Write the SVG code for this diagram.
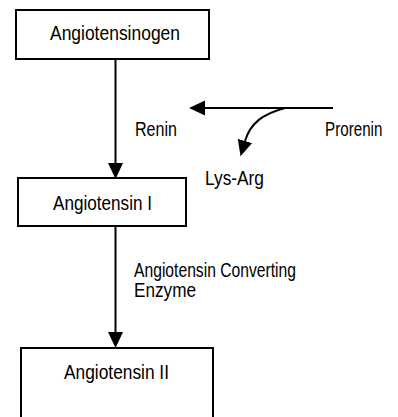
<svg xmlns="http://www.w3.org/2000/svg" width="398" height="417" viewBox="0 0 398 417">
<style>
.box{fill:#fff;stroke:#000;stroke-width:2}
.t{font-family:"Liberation Sans Narrow","Liberation Sans",Arial,sans-serif;font-size:20px;fill:#000}
.c{fill:none;stroke:#000;stroke-width:2}
</style>
<defs>
<marker id="ah" markerUnits="userSpaceOnUse" markerWidth="16" markerHeight="16" refX="0" refY="7.5" orient="auto" viewBox="0 0 16 15">
<path d="M0,0 L16,7.5 L0,15 z" fill="#000"/>
</marker>
</defs>
<rect width="398" height="417" fill="#fff"/>
<g id="connectors">
<line class="c" x1="115.5" y1="59" x2="115.5" y2="163" marker-end="url(#ah)"/>
<line class="c" x1="115.5" y1="226" x2="115.5" y2="332" marker-end="url(#ah)"/>
<line class="c" x1="333" y1="108" x2="205" y2="108" marker-end="url(#ah)"/>
<path class="c" d="M285,108 C262,114 250,124 245,141" marker-end="url(#ah)"/>
</g>
<g id="angiotensinogen">
<rect class="box" x="16" y="10" width="193" height="49"/>
<text class="t" x="50" y="40" textLength="130" lengthAdjust="spacingAndGlyphs">Angiotensinogen</text>
</g>
<g id="angiotensin-i">
<rect class="box" x="18" y="178" width="168" height="48"/>
<text class="t" x="53" y="209.5" textLength="99" lengthAdjust="spacingAndGlyphs">Angiotensin I</text>
</g>
<g id="angiotensin-ii">
<rect class="box" x="21" y="348" width="192" height="90"/>
<text class="t" x="64" y="379" textLength="105" lengthAdjust="spacingAndGlyphs">Angiotensin II</text>
</g>
<g id="labels">
<text class="t" x="135" y="136" textLength="42" lengthAdjust="spacingAndGlyphs">Renin</text>
<text class="t" transform="translate(325,136) scale(0.76,1)" x="0" y="0">Prorenin</text>
<text class="t" x="205" y="185" textLength="59" lengthAdjust="spacingAndGlyphs">Lys-Arg</text>
<text class="t" x="134" y="277" textLength="162" lengthAdjust="spacingAndGlyphs">Angiotensin Converting</text>
<text class="t" x="134" y="297" textLength="62" lengthAdjust="spacingAndGlyphs">Enzyme</text>
</g>
</svg>
